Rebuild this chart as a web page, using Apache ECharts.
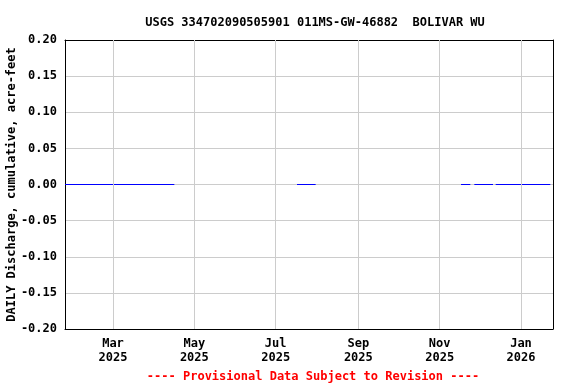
<!DOCTYPE html>
<html><head><meta charset="utf-8">
<script src="https://cdn.jsdelivr.net/npm/echarts@6/dist/echarts.min.js"></script>
<style>html,body{margin:0;padding:0;background:#fff}#c{width:576px;height:384px}</style>
</head><body><div id="c"></div>
<script>
const titleText = 'USGS 334702090505901 011MS-GW-46882  BOLIVAR WU';
const yAxisName = 'DAILY Discharge, cumulative, acre-feet';
const footerText = '---- Provisional Data Subject to Revision ----';
// segments of daily values (start date, end date, value); gaps between them
const segStarts = ['2025-01-24', '2025-07-17', '2025-11-17', '2025-11-27', '2025-12-13'];
const segEnds   = ['2025-04-16', '2025-07-31', '2025-11-24', '2025-12-11', '2026-01-23'];
const segValues = [0, 0, 0, 0, 0];
const xTickDates = ['2025-03-01', '2025-05-01', '2025-07-01', '2025-09-01', '2025-11-01', '2026-01-01'];
const xMin = '2025-01-24', xMax = '2026-01-25';
const yMin = -0.2, yMax = 0.2, yInterval = 0.05;

const ts = s => { const [y,m,d] = s.split('-').map(Number); return Date.UTC(y, m-1, d); };
const mon = ['Jan','Feb','Mar','Apr','May','Jun','Jul','Aug','Sep','Oct','Nov','Dec'];
const data = [];
segStarts.forEach((s, i) => {
  if (i > 0) data.push([ (ts(segEnds[i-1]) + ts(s)) / 2, null ]);
  data.push([ts(s), segValues[i]]);
  data.push([ts(segEnds[i]), segValues[i]]);
});
const font = 'DejaVu Sans Mono';
const blackLine = {show: true, onZero: false, lineStyle: {color: '#000', width: 1}};
const chart = echarts.init(document.getElementById('c'), null, {renderer:'canvas'});
chart.setOption({
  animation: false,
  title: [
    {text: titleText, left: 310, top: 12, textAlign: 'center',
     textStyle: {fontFamily: font, fontSize: 12, fontWeight: 'bold', color: '#000'}},
    {text: footerText, left: 308, top: 366, textAlign: 'center',
     textStyle: {fontFamily: font, fontSize: 12, fontWeight: 'bold', color: '#ff0000'}}
  ],
  grid: {left: 65, right: 23, top: 40, bottom: 55, show: false,
         containLabel: false, outerBoundsMode: 'none'},
  xAxis: [{
    type: 'value', min: ts(xMin), max: ts(xMax), position: 'bottom',
    axisLine: blackLine, axisTick: {show: false},
    splitLine: {show: false},
    axisLabel: {customValues: xTickDates.map(ts), fontFamily: font, fontSize: 12, fontWeight: 'bold', color: '#000', margin: 8, lineHeight: 14,
      formatter: v => { const d = new Date(v); return mon[d.getUTCMonth()] + '\n' + d.getUTCFullYear(); }}
  }, {
    type: 'value', min: ts(xMin), max: ts(xMax), position: 'top',
    axisLine: blackLine, axisTick: {show: false}, axisLabel: {show: false}, splitLine: {show: false}
  }],
  yAxis: [{
    type: 'value', min: yMin, max: yMax, interval: yInterval, position: 'left',
    name: yAxisName, nameLocation: 'middle', nameGap: 47, nameMoveOverlap: false,
    nameTextStyle: {fontFamily: font, fontSize: 12, fontWeight: 'bold', color: '#000'},
    axisLine: blackLine, axisTick: {show: false},
    splitLine: {show: true, showMinLine: false, showMaxLine: false, lineStyle: {color: '#cccccc', width: 1}},
    axisLabel: {fontFamily: font, fontSize: 12, fontWeight: 'bold', color: '#000', margin: 8,
      formatter: v => v.toFixed(2)}
  }, {
    type: 'value', min: yMin, max: yMax, interval: yInterval, position: 'right',
    axisLine: blackLine, axisTick: {show: false}, axisLabel: {show: false}, splitLine: {show: false}
  }],
  series: [{
    type: 'line', data: data, showSymbol: false, connectNulls: false,
    lineStyle: {color: '#0000ff', width: 1}, itemStyle: {color: '#0000ff'},
    markLine: {silent: true, symbol: 'none', label: {show: false},
      lineStyle: {color: '#cccccc', width: 1, type: 'solid'},
      data: xTickDates.map(d => ({xAxis: ts(d)}))},
    z: 3
  }]
});
</script></body></html>
